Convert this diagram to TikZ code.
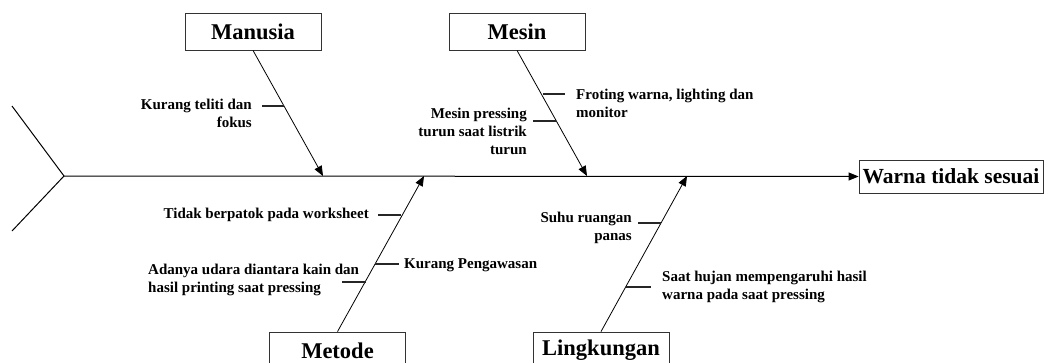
\documentclass[tikz,border=0pt]{standalone}
\usepackage{fontspec}
\setmainfont{Liberation Serif}
\usetikzlibrary{arrows.meta}
\tikzset{
  catbox/.style={draw=black!80, line width=0.8pt, rectangle, inner sep=0pt,
    minimum width=136pt, minimum height=37pt,
    font=\fontsize{22.5}{26}\selectfont\bfseries},
  effbox/.style={draw=black!80, line width=0.8pt, rectangle, inner sep=0pt,
    minimum width=184pt, minimum height=33pt,
    font=\fontsize{21.5}{26}\selectfont\bfseries},
  lbl/.style={inner sep=0pt, font=\fontsize{15}{18}\selectfont\bfseries},
  bone/.style={line width=0.8pt, -{Triangle[length=10pt,width=8pt]}},
  spine/.style={line width=1pt},
  tick/.style={line width=1.2pt, black!85},
}
\begin{document}
\begin{tikzpicture}[x=1pt,y=-1pt]
\useasboundingbox (0,0) rectangle (1047,362);
% boxes
\node[catbox] (man) at (253,31.5) {Manusia};
\node[catbox] (mes) at (517,31.5) {Mesin};
\node[catbox] (met) at (337.5,350.5) {Metode};
\node[catbox] (lin) at (601,350.5) {Lingkungan};
\node[effbox] (eff) at (951,176.5) {Warna tidak sesuai};
% spine and tail
\coordinate (tail) at (64,176);
\coordinate (ftop) at (12,106);
\coordinate (fbot) at (12,231);
\draw[spine] (ftop) -- (tail) -- (fbot);
\draw[spine, -{Triangle[length=10pt,width=8pt]}] (tail) -- (eff.west);
% bone end points
\coordinate (pman) at (323,176);
\coordinate (pmes) at (587,176);
\coordinate (pmet) at (424,176);
\coordinate (plin) at (687,176);
\draw[bone] (man.south) -- (pman);
\draw[bone] (mes.south) -- (pmes);
\draw[bone] (met.north) -- (pmet);
\draw[bone] (lin.north) -- (plin);
% labels
\node[lbl, anchor=east, align=right] (l1) at (252,113) {Kurang teliti dan\\fokus};
\node[lbl, anchor=west, align=left] (l2) at (576,103) {Froting warna, lighting dan\\monitor};
\node[lbl, anchor=east, align=right] (l3) at (527,131) {Mesin pressing\\turun saat listrik\\turun};
\node[lbl, anchor=east, align=right] (l4) at (369,215) {Tidak berpatok pada worksheet};
\node[lbl, anchor=west, align=left] (l5) at (404,265) {Kurang Pengawasan};
\node[lbl, anchor=west, align=left] (l6) at (148,280) {Adanya udara diantara kain dan\\hasil printing saat pressing};
\node[lbl, anchor=east, align=right] (l7) at (632,228) {Suhu ruangan\\panas};
\node[lbl, anchor=west, align=left] (l8) at (662,287) {Saat hujan mempengaruhi hasil\\warna pada saat pressing};
% ticks
\coordinate (t1a) at (262,106); \coordinate (t1b) at (284,106);
\coordinate (t2a) at (543,94);  \coordinate (t2b) at (565,94);
\coordinate (t3a) at (533,121); \coordinate (t3b) at (556,121);
\coordinate (t4a) at (378,215); \coordinate (t4b) at (401,215);
\coordinate (t5a) at (375,264); \coordinate (t5b) at (399,264);
\coordinate (t6a) at (342,282); \coordinate (t6b) at (366,282);
\coordinate (t7a) at (638,223); \coordinate (t7b) at (661,223);
\coordinate (t8a) at (626,287); \coordinate (t8b) at (651,287);
\draw[tick] (t1a) -- (t1b);
\draw[tick] (t2a) -- (t2b);
\draw[tick] (t3a) -- (t3b);
\draw[tick] (t4a) -- (t4b);
\draw[tick] (t5a) -- (t5b);
\draw[tick] (t6a) -- (t6b);
\draw[tick] (t7a) -- (t7b);
\draw[tick] (t8a) -- (t8b);
\end{tikzpicture}
\end{document}
